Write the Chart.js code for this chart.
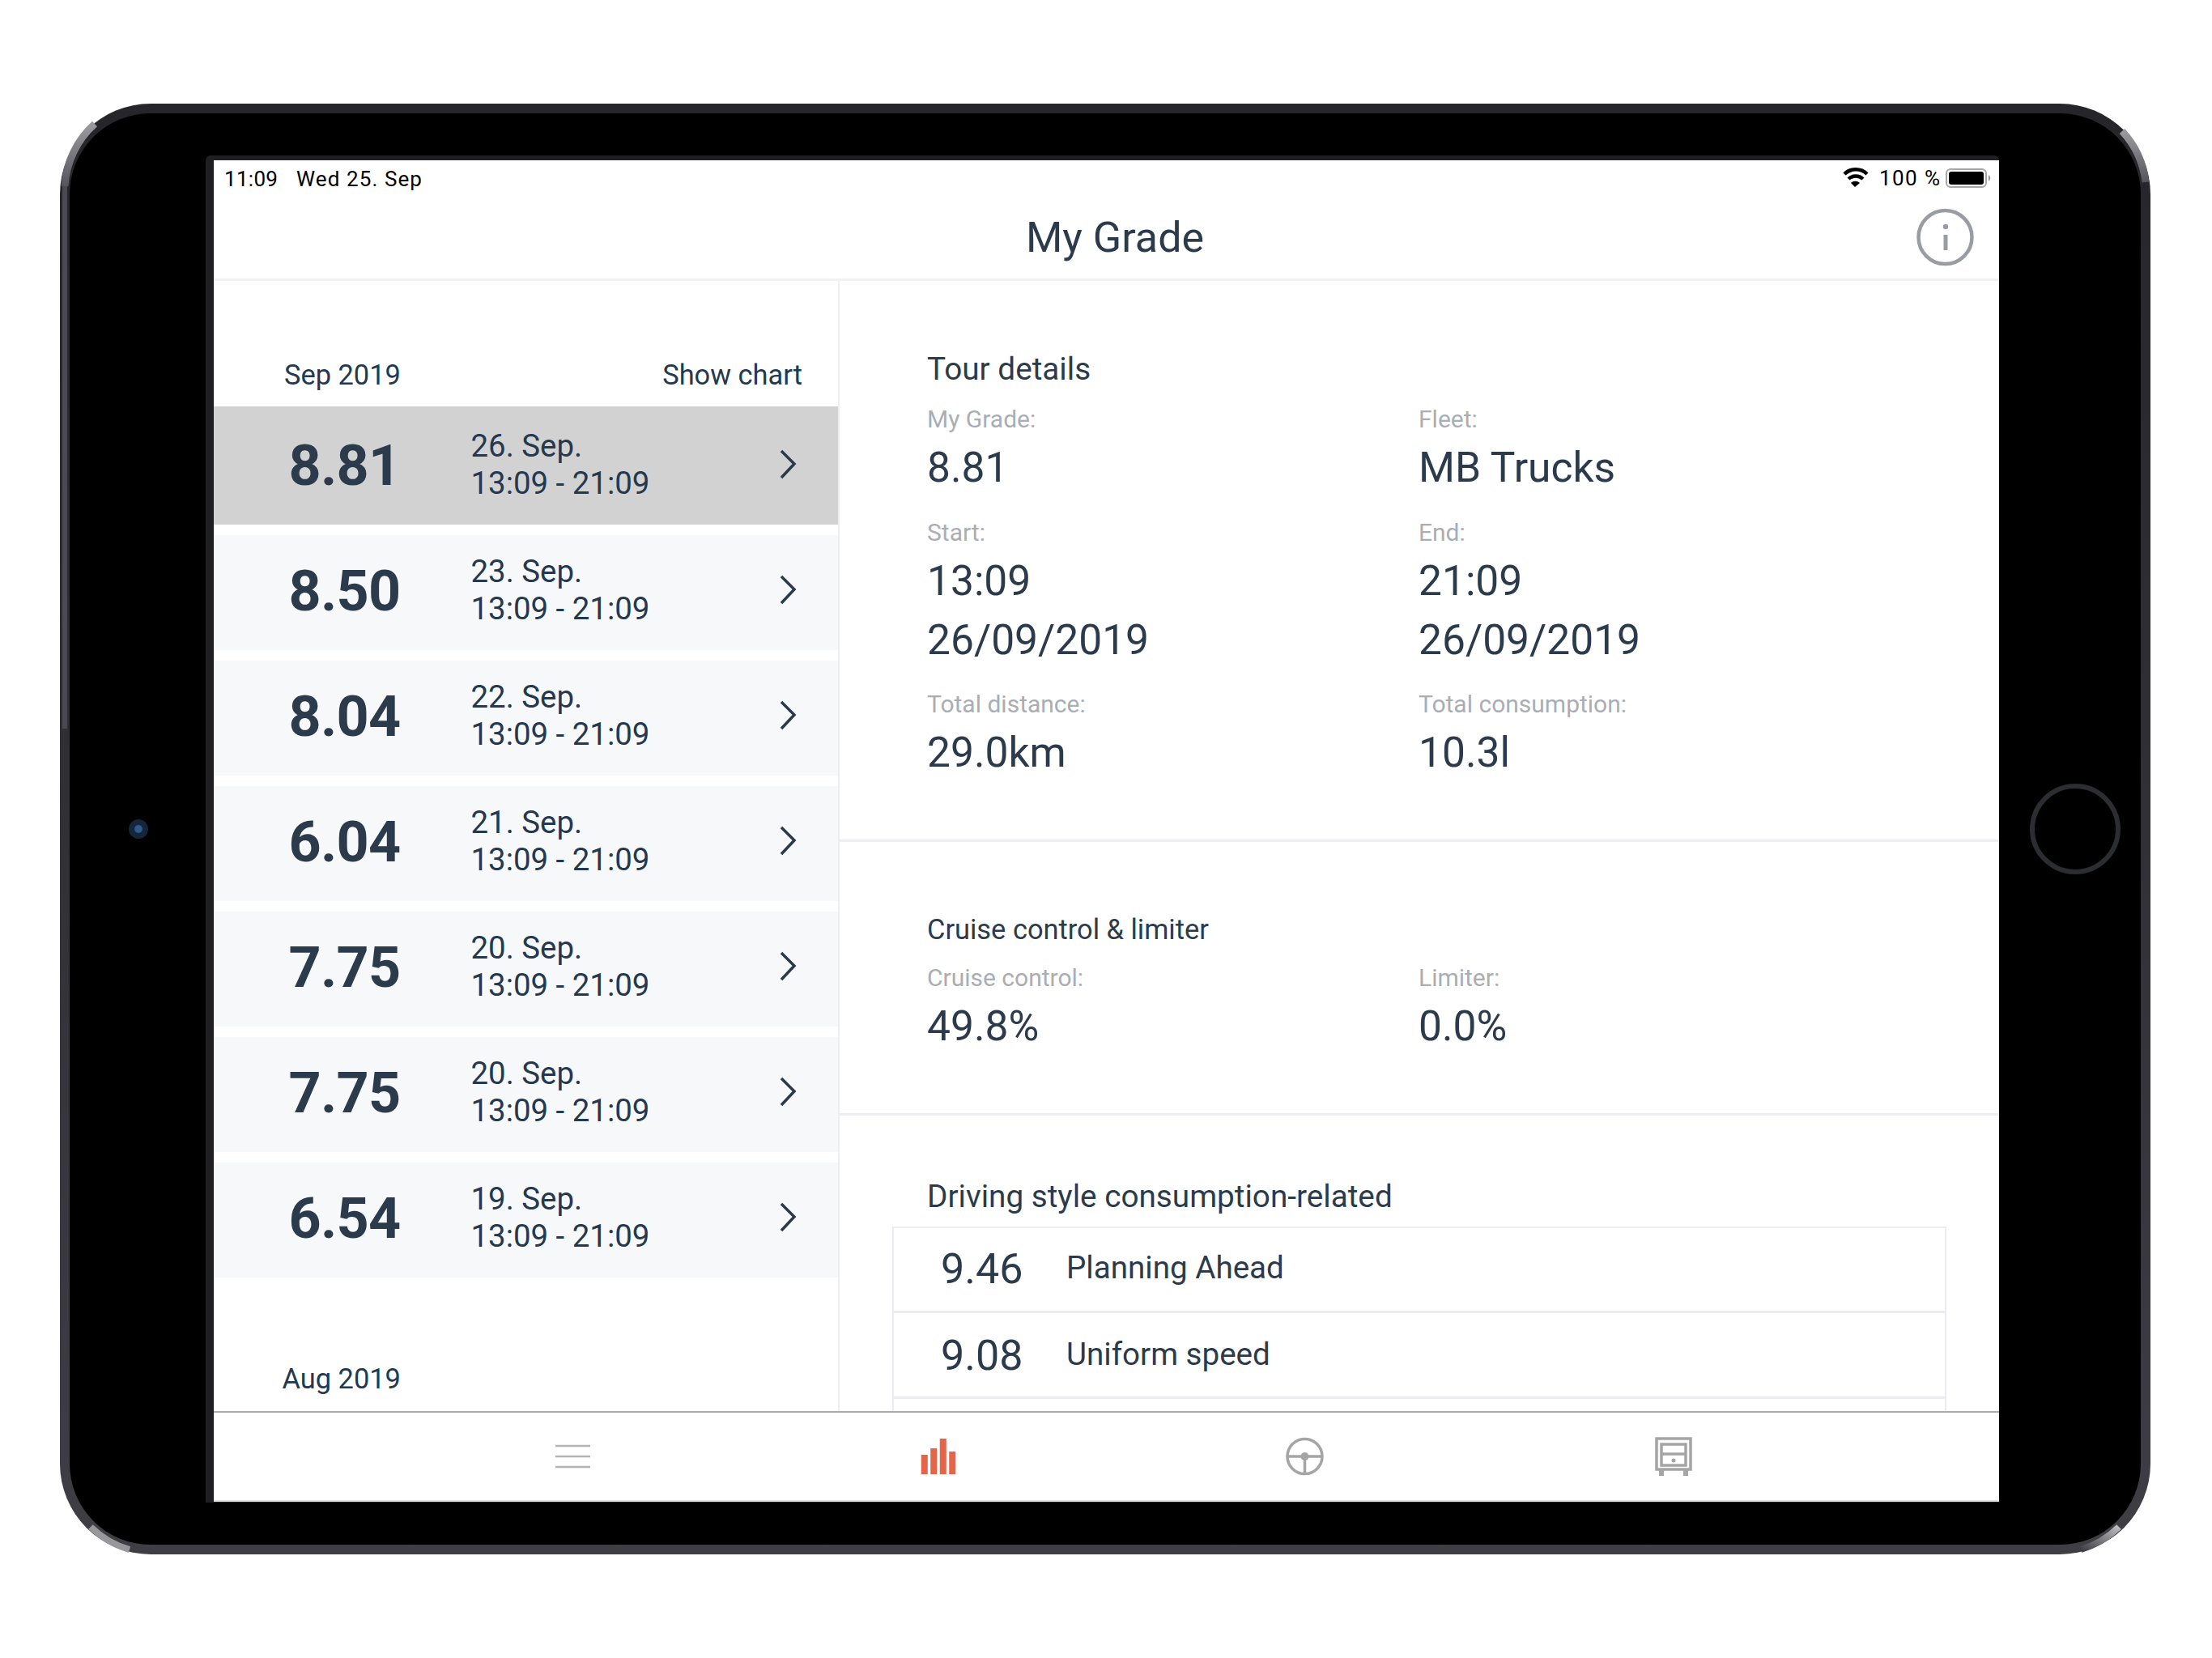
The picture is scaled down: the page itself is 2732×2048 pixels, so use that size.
<!DOCTYPE html>
<html><head><meta charset="utf-8">
<script src="https://cdn.jsdelivr.net/npm/chart.js@4/dist/chart.umd.min.js"></script>
<style>
html,body{margin:0;padding:0;background:#fff;width:2732px;height:2048px;overflow:hidden}
#stage{position:relative;width:2732px;height:2048px;overflow:hidden;font-family:Roboto,sans-serif;color:#2c3b4c}
.box{position:absolute}
.t{position:absolute;white-space:pre;line-height:1;transform:translateY(-50%)}
svg{position:absolute;left:0;top:0}
canvas{position:absolute}
</style></head><body>
<div id="stage"></div>
<script>
// ---- data ----
const gradeValues=["8.81","8.50","8.04","6.04","7.75","7.75","6.54"];
const gradeDates=["26. Sep.","23. Sep.","22. Sep.","21. Sep.","20. Sep.","20. Sep.","19. Sep."];
const tourTime="13:09 - 21:09";
const monthLabels=["Sep 2019","Aug 2019"];
const styleScores=["9.46","9.08"];
const styleNames=["Planning Ahead","Uniform speed"];
const tabBarValues=[24,32,44,28];
const tabBarCategories=["a","b","c","d"];

const stage=document.getElementById('stage');
function box(x,y,w,h,bg,extra){const d=document.createElement('div');d.className='box';
 d.style.cssText=`left:${x}px;top:${y}px;width:${w}px;height:${h}px;background:${bg};${extra||''}`;stage.appendChild(d);return d;}
function text(s,x,cy,size,color,o){o=o||{};const d=document.createElement('div');d.className='t';d.textContent=s;
 d.style.cssText=`${o.right!==undefined?`right:${2732-o.right}px`:`left:${x}px`};top:${cy}px;font-size:${size}px;color:${color};font-weight:${o.w||400};${o.family?`font-family:${o.family};`:''}${o.ls?`letter-spacing:${o.ls}px;`:''}`;
 stage.appendChild(d);return d;}

// device
box(74,128,2582,1792,'linear-gradient(180deg,#26262a 0%,#303035 50%,#3e3e44 100%)','border-radius:112px;');
box(86,140,2558,1768,'#000','border-radius:100px;');
box(254,192,2215,1664,'#1f1f21','border-radius:6px 6px 0 0;');
box(264,198,2205,1655,'#fff');
box(264,1853,2205,2,'#dfdfdf');

// header
const dark='#2c3b4c', navy='#24384f', grey='#aaaeb4';
text("11:09",277,221,26,'#000',{ls:.3});
text("Wed 25. Sep",366,221,26,'#000',{ls:1.1});
text("100 %",2321,220,26,'#000',{ls:1.4});
const title=text("My Grade",0,294,52,dark);title.style.left='1377px';title.style.transform='translate(-50%,-50%)';
box(264,344,2205,3,'#f0f0f5');

// left list
box(1035,347,2,1396,'#eceef2');
text(monthLabels[0],351,463,34.4,navy);
text("Show chart",0,463,34.4,navy,{right:991});
gradeValues.forEach((g,i)=>{
 const cy=573+i*155;
 if(i===0) box(264,502,771,146,'#d2d2d2'); else box(264,cy-67,771,142,'#f7f8fa');
 text(g,356.5,cy+2,70,dark,{w:700,ls:-.7});
 text(gradeDates[i],581.5,cy-22,38.4,navy);
 text(tourTime,581.5,cy+24,38.4,navy);
});
text(monthLabels[1],348.5,1703,34.4,navy);

// right panel
const C1=1145,C2=1752;
text("Tour details",C1,455.5,38.7,dark);
text("My Grade:",C1,518,30,grey);text("Fleet:",C2,518,30,grey);
text("8.81",C1,578,51.5,dark);text("MB Trucks",C2,578,51.5,dark);
text("Start:",C1,658,30,grey);text("End:",C2,658,30,grey);
text("13:09",C1,718,51.5,dark);text("21:09",C2,718,51.5,dark);
text("26/09/2019",C1,790.5,51.5,dark);text("26/09/2019",C2,790.5,51.5,dark);
text("Total distance:",C1,870,30,grey);text("Total consumption:",C2,870,30,grey);
text("29.0km",C1,930,51.5,dark);text("10.3l",C2,930,51.5,dark);
box(1037,1037,1432,3,'#eceef2');
text("Cruise control & limiter",C1,1148,34.4,dark);
text("Cruise control:",C1,1208,30,grey);text("Limiter:",C2,1208,30,grey);
text("49.8%",C1,1268,51.5,dark);text("0.0%",C2,1268,51.5,dark);
box(1037,1375,1432,3,'#eceef2');
text("Driving style consumption-related",C1,1478,38.7,dark);
box(1102,1515,2,228,'#ececf0');box(2402,1515,2,228,'#ececf0');
box(1102,1515,1302,2,'#ececf0');box(1102,1619,1302,3,'#ececf0');box(1102,1725,1302,3,'#ececf0');
styleScores.forEach((s,i)=>{const cy=[1568,1675][i];
 text(s,1162,cy,52,dark);text(styleNames[i],1317,cy-2,38.6,dark);});

// tab bar
box(264,1743,2205,2,'#acacac');
box(264,1745,2205,108,'#fff');

// overlay icons
const NS='http://www.w3.org/2000/svg';
const svg=document.createElementNS(NS,'svg');svg.setAttribute('width',2732);svg.setAttribute('height',2048);
let chev='';gradeValues.forEach((g,i)=>{const cy=573+i*155;chev+=`<path d="M965 ${cy-16}L981 ${cy}L965 ${cy+17}" fill="none" stroke="#2a3a4c" stroke-width="3.5"/>`;});
svg.innerHTML=`
<defs>
<linearGradient id="rimL" x1="0" y1="0" x2="0" y2="1"><stop offset="0" stop-color="#9a9a9f"/><stop offset="1" stop-color="#55555b"/></linearGradient>
<linearGradient id="rimB" x1="1" y1="0" x2="0" y2="1"><stop offset="0" stop-color="#bdbdc0"/><stop offset="1" stop-color="#3e3e44"/></linearGradient>
</defs>
<path d="M117 153A112 112 0 0 0 80 230" fill="none" stroke="url(#rimL)" stroke-width="9"/>
<path d="M80 230V900" fill="none" stroke="#4a4a50" stroke-width="6"/>
<path d="M2621 162A112 112 0 0 1 2650 225" fill="none" stroke="url(#rimL)" stroke-width="9"/>
<path d="M2617 1886A112 112 0 0 1 2570 1914" fill="none" stroke="url(#rimB)" stroke-width="8"/>
<path d="M112 1886A112 112 0 0 0 160 1914" fill="none" stroke="#98989c" stroke-width="8"/>
<circle cx="2563" cy="1024" r="53" fill="none" stroke="#2b2d31" stroke-width="6"/>
<circle cx="171" cy="1024" r="12" fill="#16263a"/><circle cx="171" cy="1024" r="5" fill="#2e5a8c"/>
<circle cx="2402.5" cy="293" r="33" fill="none" stroke="#9a9ca3" stroke-width="4.5"/>
<circle cx="2403" cy="280" r="3.2" fill="#9a9ca3"/><rect x="2400.5" y="290" width="5" height="19" fill="#9a9ca3"/>
<path d="M2278 215A20 20 0 0 1 2306 215" fill="none" stroke="#000" stroke-width="4.5"/>
<path d="M2283 221A13 13 0 0 1 2301 221" fill="none" stroke="#000" stroke-width="4.5"/>
<path d="M2286 226L2291 231L2297 226A8 8 0 0 0 2286 226Z" fill="#000"/>
<rect x="2404" y="209" width="49" height="22" rx="5" fill="none" stroke="#a6a6a8" stroke-width="2"/>
<rect x="2407" y="212" width="43" height="16" rx="3" fill="#000"/>
<path d="M2456 216A5 5 0 0 1 2456 224Z" fill="#8a8a8c"/>
${chev}
<g stroke="#b3b3b3" stroke-width="2.5"><path d="M686 1786H729M686 1799H729M686 1812H729"/></g>
<g fill="none" stroke="#a5a5a5" stroke-width="3.5"><circle cx="1611.5" cy="1799" r="21.5"/><path d="M1590 1799H1633M1611.5 1799V1820"/></g>
<circle cx="1611.5" cy="1799" r="5" fill="#a5a5a5"/>
<g fill="none" stroke="#a5a5a5" stroke-width="3.5">
<rect x="2046" y="1777" width="42" height="38"/><rect x="2052" y="1784" width="30" height="26"/><path d="M2052 1796H2082"/>
<path d="M2052 1815V1823M2082 1815V1823" stroke-width="6"/>
</g><circle cx="2067" cy="1804" r="2.5" fill="#a5a5a5"/>`;
stage.appendChild(svg);

// tab-bar bar-chart glyph, drawn by Chart.js
const cv=document.createElement('canvas');cv.style.cssText='left:1135.5px;top:1777px;width:46px;height:44px';cv.width=46;cv.height=44;stage.appendChild(cv);
new Chart(cv,{type:'bar',data:{labels:tabBarCategories,datasets:[{data:tabBarValues,backgroundColor:'#e5654a',borderWidth:0,barPercentage:.7,categoryPercentage:1}]},
 options:{responsive:false,animation:false,devicePixelRatio:1,layout:{padding:0},
 plugins:{legend:{display:false},tooltip:{enabled:false},title:{display:false}},
 scales:{x:{display:false},y:{display:false,min:0,max:44}}}});
</script></body></html>
